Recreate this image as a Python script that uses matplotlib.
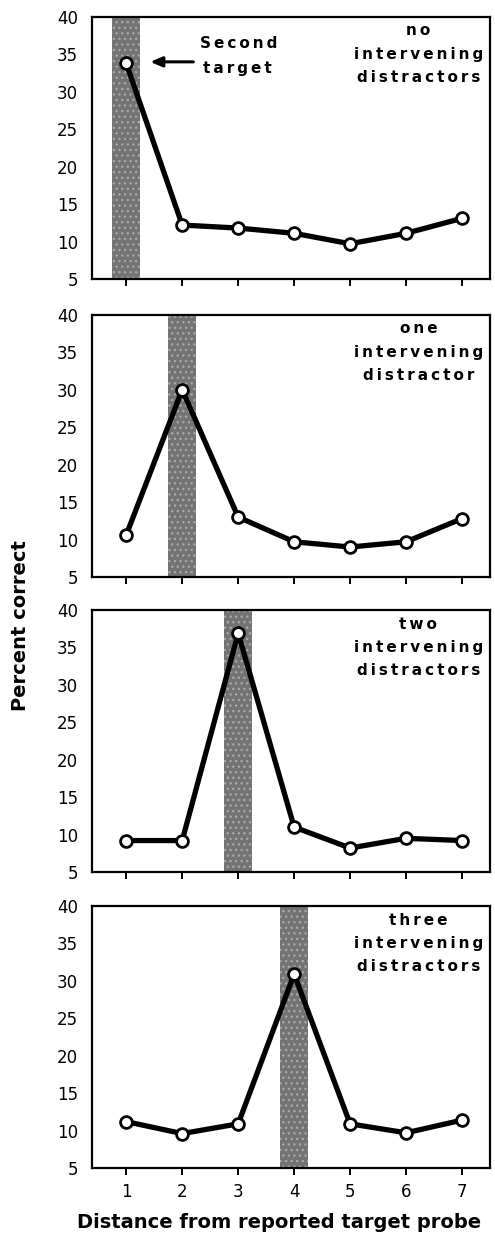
import matplotlib
matplotlib.use("Agg")
import matplotlib.pyplot as plt

plt.rcParams['font.family'] = ['DejaVu Sans']

distance = [1, 2, 3, 4, 5, 6, 7]
no_distr = [33.8, 12.2, 11.8, 11.1, 9.7, 11.1, 13.1]
one_distr = [10.6, 30.0, 13.0, 9.7, 9.0, 9.7, 12.8]
two_distr = [9.2, 9.2, 36.9, 11.0, 8.2, 9.5, 9.2]
three_distr = [11.2, 9.6, 10.9, 30.9, 10.9, 9.7, 11.4]
series = [no_distr, one_distr, two_distr, three_distr]
target_pos = [1, 2, 3, 4]
labels = [["no", "intervening", "distractors"],
          ["one", "intervening", "distractor"],
          ["two", "intervening", "distractors"],
          ["three", "intervening", "distractors"]]
yticks = [5, 10, 15, 20, 25, 30, 35, 40]


def spaced(word):
    return "\u2009".join(word)


fig = plt.figure(figsize=(4.95, 12.36), dpi=100)
bottoms = [0.7743, 0.5332, 0.2945, 0.055]
axes = []
for i in range(4):
    ax = fig.add_axes([0.186, bottoms[i], 0.804, 0.212])
    axes.append(ax)
    ax.axvspan(target_pos[i] - 0.25, target_pos[i] + 0.25, facecolor='#737373',
               edgecolor='#a8a8a8', hatch='...', linewidth=0, zorder=1)
    ax.plot(distance, series[i], color='black', lw=3.8, marker='o', ms=8.5,
            mfc='white', mec='black', mew=2, zorder=3)
    ax.set_xlim(0.39, 7.5)
    ax.set_ylim(5, 40)
    ax.set_yticks(yticks)
    ax.set_xticks(distance)
    for s in ax.spines.values():
        s.set_linewidth(1.6)
    ax.tick_params(axis='y', length=0, labelsize=12, pad=10)
    ax.tick_params(axis='x', direction='out', length=5, width=1.4, labelsize=12, pad=6)
    if i < 3:
        ax.set_xticklabels([])
    ax.text(0.82, 0.975, "\n".join(spaced(w) for w in labels[i]),
            transform=ax.transAxes, ha='center', va='top', fontsize=11,
            fontweight='bold', linespacing=1.7, zorder=4)

axes[0].annotate("", xy=(1.43, 34.0), xytext=(2.2, 34.0),
                 arrowprops=dict(arrowstyle='-|>,head_length=0.7,head_width=0.3',
                                 color='black', lw=2.2, shrinkA=0, shrinkB=0))
axes[0].text(2.32, 34.8, spaced("Second") + "\n" + "\u2009" + spaced("target"),
             ha='left', va='center', fontsize=11, fontweight='bold', linespacing=1.8)

fig.text(0.563, 0.0113, "Distance from reported target probe", ha='center',
         va='center', fontsize=14, fontweight='bold')
fig.text(0.042, 0.494, "Percent correct", rotation=90, ha='center', va='center',
         fontsize=14, fontweight='bold')

fig.savefig("out.png", dpi=100)
